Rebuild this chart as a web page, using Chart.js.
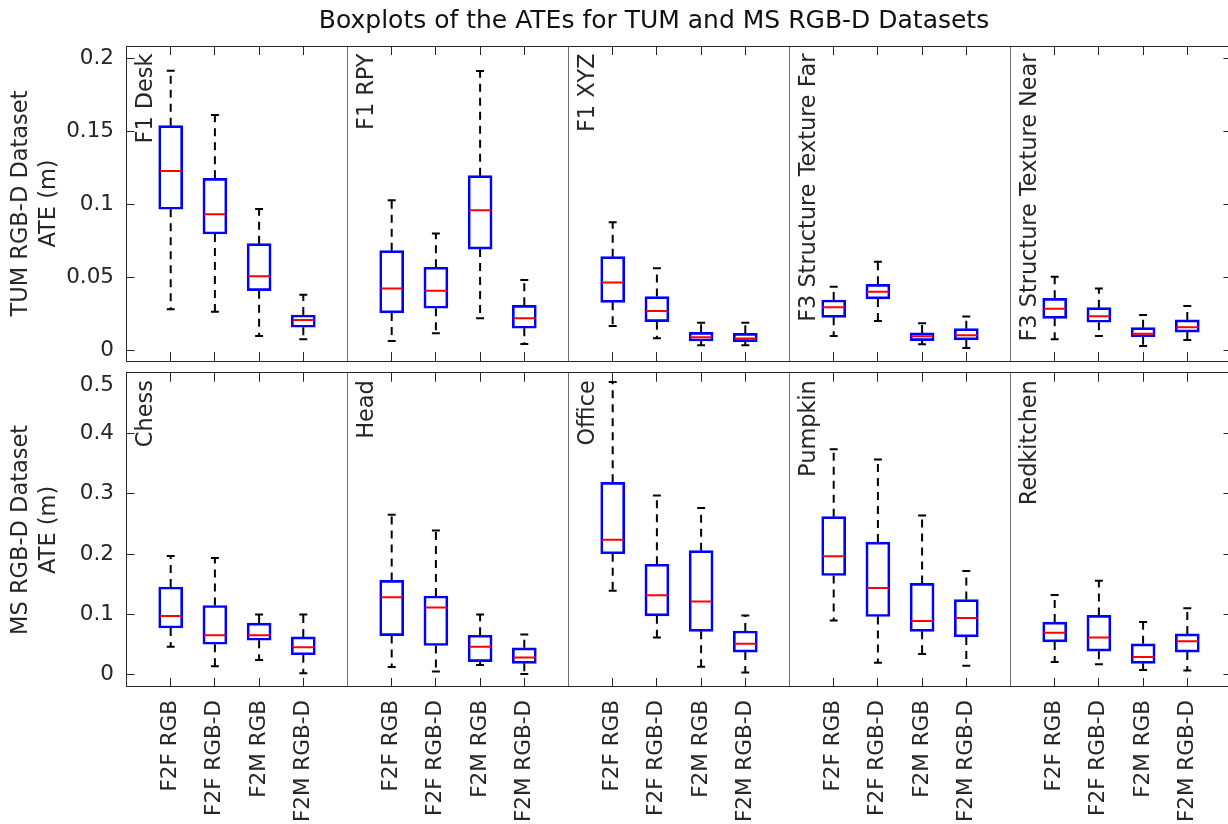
<!DOCTYPE html>
<html><head><meta charset="utf-8">
<script src="https://cdn.jsdelivr.net/npm/chart.js@4.4.1/dist/chart.umd.min.js"></script>
<style>
html,body{margin:0;padding:0;background:#fff;overflow:hidden;width:1228px;height:824px;}
#c1{position:absolute;left:0;top:0;}
#c2{position:absolute;left:0;top:366px;}
</style></head><body>
<canvas id="c1" width="1308" height="366"></canvas>
<canvas id="c2" width="1308" height="458"></canvas>
<script>
// ---------- data ----------
const chartTitle = 'Boxplots of the ATEs for TUM and MS RGB-D Datasets';
const methods = ['F2F RGB', 'F2F RGB-D', 'F2M RGB', 'F2M RGB-D'];
const tumSequences = ['F1 Desk', 'F1 RPY', 'F1 XYZ', 'F3 Structure Texture Far', 'F3 Structure Texture Near'];
const msSequences = ['Chess', 'Head', 'Office', 'Pumpkin', 'Redkitchen'];
const tumYLabel = ['TUM RGB-D Dataset', 'ATE (m)'];
const msYLabel = ['MS RGB-D Dataset', 'ATE (m)'];
const tumYTicks = [0, 0.05, 0.1, 0.15, 0.2];
const msYTicks = [0, 0.1, 0.2, 0.3, 0.4, 0.5];

// TUM: 5 sequences x 4 methods
const tumMax = [0.1915,0.1611,0.0967,0.0379, 0.1026,0.0798,0.1913,0.0480, 0.0875,0.0560,0.0187,0.0187, 0.0434,0.0605,0.0183,0.0229, 0.0503,0.0421,0.0240,0.0302];
const tumQ3  = [0.1538,0.1177,0.0729,0.0240, 0.0681,0.0567,0.1195,0.0306, 0.0640,0.0366,0.0121,0.0114, 0.0343,0.0450,0.0117,0.0146, 0.0354,0.0290,0.0153,0.0206];
const tumMed = [0.1227,0.0930,0.0505,0.0206, 0.0421,0.0407,0.0958,0.0217, 0.0462,0.0267,0.0087,0.0078, 0.0293,0.0400,0.0094,0.0101, 0.0283,0.0231,0.0112,0.0156];
const tumQ1  = [0.0965,0.0795,0.0407,0.0156, 0.0254,0.0286,0.0692,0.0149, 0.0327,0.0194,0.0062,0.0057, 0.0224,0.0350,0.0064,0.0069, 0.0217,0.0190,0.0091,0.0123];
const tumMin = [0.0279,0.0263,0.0096,0.0073, 0.0062,0.0114,0.0217,0.0041, 0.0165,0.0080,0.0032,0.0032, 0.0096,0.0199,0.0039,0.0014, 0.0073,0.0096,0.0027,0.0069];

// MS: 5 sequences x 4 methods
const msMax = [0.1967,0.1934,0.1000,0.1000, 0.2650,0.2388,0.1000,0.0667, 0.4847,0.2967,0.2760,0.0984, 0.3733,0.3563,0.2639,0.1721, 0.1322,0.1557,0.0874,0.1104];
const msQ3  = [0.1454,0.1148,0.0858,0.0628, 0.1563,0.1306,0.0656,0.0448, 0.3186,0.1831,0.2055,0.0727, 0.2618,0.2197,0.1514,0.1246, 0.0874,0.0984,0.0514,0.0678];
const msMed = [0.0973,0.0656,0.0656,0.0459, 0.1284,0.1115,0.0464,0.0290, 0.2235,0.1317,0.1213,0.0514, 0.1962,0.1437,0.0891,0.0940, 0.0699,0.0617,0.0295,0.0557];
const msQ1  = [0.0776,0.0508,0.0574,0.0333, 0.0650,0.0486,0.0219,0.0191, 0.2005,0.0978,0.0721,0.0377, 0.1645,0.0967,0.0721,0.0628, 0.0546,0.0393,0.0191,0.0377];
const msMin = [0.0464,0.0142,0.0246,0.0027, 0.0131,0.0055,0.0164,0.0016, 0.1393,0.0617,0.0137,0.0038, 0.0902,0.0202,0.0344,0.0153, 0.0213,0.0175,0.0082,0.0071];

// ---------- styling ----------
Chart.defaults.font.family = "'DejaVu Sans', sans-serif";
Chart.defaults.color = '#262626';
const TEXT = '#262626';
const CAP_HALF = 0.09, MED_HALF = 0.245;
const positions = Array.from({length: tumMax.length}, (_, i) => 5 * Math.floor(i / 4) + (i % 4) + 1);
const dividerValues = [5, 10, 15, 20];

function noPad(s) { s.paddingTop = 0; s.paddingBottom = 0; s.paddingLeft = 0; s.paddingRight = 0; }

function buildDatasets(mn, q1, med, q3, mx) {
  const whisk = [], caps = [], meds = [];
  positions.forEach((p, i) => {
    whisk.push({x: p, y: q3[i]}, {x: p, y: mx[i]}, {x: p, y: null}, {x: p, y: q1[i]}, {x: p, y: mn[i]}, {x: p, y: null});
    caps.push({x: p - CAP_HALF, y: mx[i]}, {x: p + CAP_HALF, y: mx[i]}, {x: p, y: null},
              {x: p - CAP_HALF, y: mn[i]}, {x: p + CAP_HALF, y: mn[i]}, {x: p, y: null});
    meds.push({x: p - MED_HALF, y: med[i]}, {x: p + MED_HALF, y: med[i]}, {x: p, y: null});
  });
  return [
    {type: 'line', data: meds, borderColor: '#ff0000', borderWidth: 2, pointRadius: 0, order: 0, borderCapStyle: 'butt'},
    {type: 'bar', data: positions.map((p, i) => ({x: p, y: [q1[i], q3[i]]})),
     backgroundColor: 'rgba(0,0,0,0)', borderColor: '#0000ff', borderWidth: 2, borderSkipped: false,
     barThickness: 24, order: 1},
    {type: 'line', data: whisk, borderColor: '#000', borderWidth: 2, borderDash: [8, 6], pointRadius: 0, order: 2, borderCapStyle: 'butt'},
    {type: 'line', data: caps, borderColor: '#000', borderWidth: 2, pointRadius: 0, order: 2, borderCapStyle: 'butt'}
  ];
}

const panelDecor = {
  id: 'panelDecor',
  afterDatasetsDraw(chart, args, opts) {
    const {ctx, chartArea: a, scales} = chart;
    const xs = scales.x, ys = scales.y;
    const crisp = v => Math.floor(v) + 0.5;
    ctx.save();
    ctx.strokeStyle = TEXT; ctx.lineWidth = 1;
    ctx.beginPath();
    xs.ticks.forEach(t => {
      const px = crisp(xs.getPixelForValue(t.value));
      ctx.moveTo(px, a.top); ctx.lineTo(px, a.top + 9);
      ctx.moveTo(px, a.bottom); ctx.lineTo(px, a.bottom - 9);
    });
    ys.ticks.forEach(t => {
      const py = crisp(ys.getPixelForValue(t.value));
      ctx.moveTo(a.left, py); ctx.lineTo(a.left + 8, py);
      ctx.moveTo(a.right, py); ctx.lineTo(a.right - 8, py);
    });
    ctx.stroke();
    ctx.strokeRect(crisp(a.left), crisp(a.top), Math.round(a.right - a.left), Math.round(a.bottom - a.top));
    ctx.fillStyle = TEXT;
    ctx.font = "22.4px 'DejaVu Sans', sans-serif";
    ctx.textAlign = 'right'; ctx.textBaseline = 'alphabetic';
    opts.groups.forEach((name, g) => {
      const x0 = xs.getPixelForValue(g * 5);
      ctx.save();
      ctx.translate(x0 + 25, a.top + 7.5);
      ctx.rotate(-Math.PI / 2);
      ctx.fillText(name, 0, 0);
      ctx.restore();
    });
    ctx.restore();
  }
};

function makeChart(canvasId, cfg) {
  const showTitle = cfg.title !== undefined;
  const topTick = cfg.yTicks[cfg.yTicks.length - 1];
  return new Chart(document.getElementById(canvasId), {
    type: 'line',
    data: {datasets: buildDatasets(cfg.mn, cfg.q1, cfg.med, cfg.q3, cfg.mx)},
    plugins: [panelDecor],
    options: {
      responsive: false, devicePixelRatio: 1, animation: false, events: [],
      layout: {padding: {top: cfg.padTop, left: 0, right: 0, bottom: 0}},
      plugins: {
        legend: {display: false}, tooltip: {enabled: false},
        title: {display: showTitle, text: cfg.title || '', color: '#111',
                font: {size: 25, weight: 'normal'}, padding: {top: 6.2, bottom: 9.8}},
        panelDecor: {groups: cfg.groups}
      },
      scales: {
        x: {
          type: 'linear', min: 0, max: 25, offset: false, position: 'bottom',
          afterBuildTicks: s => { s.ticks = positions.map(v => ({value: v})); },
          afterFit: s => { s.height = cfg.xHeight; noPad(s); },
          grid: {display: false, drawTicks: false, drawOnChartArea: false},
          border: {display: false},
          ticks: {display: cfg.showX, autoSkip: false, minRotation: 90, maxRotation: 90, padding: 13,
                  color: TEXT, font: {size: 21.5},
                  callback: v => methods[(Math.round(v) % 5) - 1]}
        },
        xDiv: {
          type: 'linear', min: 0, max: 25, offset: false, position: 'bottom',
          afterBuildTicks: s => { s.ticks = dividerValues.map(v => ({value: v})); },
          afterFit: s => { s.height = 0; noPad(s); },
          grid: {display: true, drawTicks: false, drawOnChartArea: true, color: '#707070', lineWidth: 1},
          border: {display: false},
          ticks: {display: false}
        },
        y: {
          type: 'linear', min: cfg.yMin, max: cfg.yMax, position: 'left',
          afterBuildTicks: s => { s.ticks = cfg.yTicks.map(v => ({value: v})); },
          afterFit: s => { s.width = 126.5; noPad(s); },
          grid: {display: false, drawTicks: false},
          border: {display: false},
          ticks: {padding: 12.5, color: TEXT, font: {size: 21.5},
                  callback: v => (cfg.dropTopLabel && v === topTick) ? ['', String(v)] : String(v)},
          title: {display: true, text: cfg.yLabel, color: TEXT,
                  font: {size: 22.5, lineHeight: 28 / 22.5}, padding: {top: 7.5, bottom: 0}}
        },
        yR: {
          type: 'linear', position: 'right', display: true,
          afterFit: s => { s.width = 76.5; noPad(s); },
          grid: {display: false, drawTicks: false}, border: {display: false}, ticks: {display: false}
        }
      }
    }
  });
}

makeChart('c1', {title: chartTitle, mn: tumMin, q1: tumQ1, med: tumMed, q3: tumQ3, mx: tumMax,
  groups: tumSequences, yTicks: tumYTicks, yMin: -0.00754, yMax: 0.2084, yLabel: tumYLabel,
  showX: false, xHeight: 5, padTop: 0, dropTopLabel: false});
makeChart('c2', {mn: msMin, q1: msQ1, med: msMed, q3: msQ3, mx: msMax,
  groups: msSequences, yTicks: msYTicks, yMin: -0.02, yMax: 0.5, yLabel: msYLabel,
  showX: true, xHeight: 137, padTop: 6.7, dropTopLabel: true});
</script>
</body></html>
